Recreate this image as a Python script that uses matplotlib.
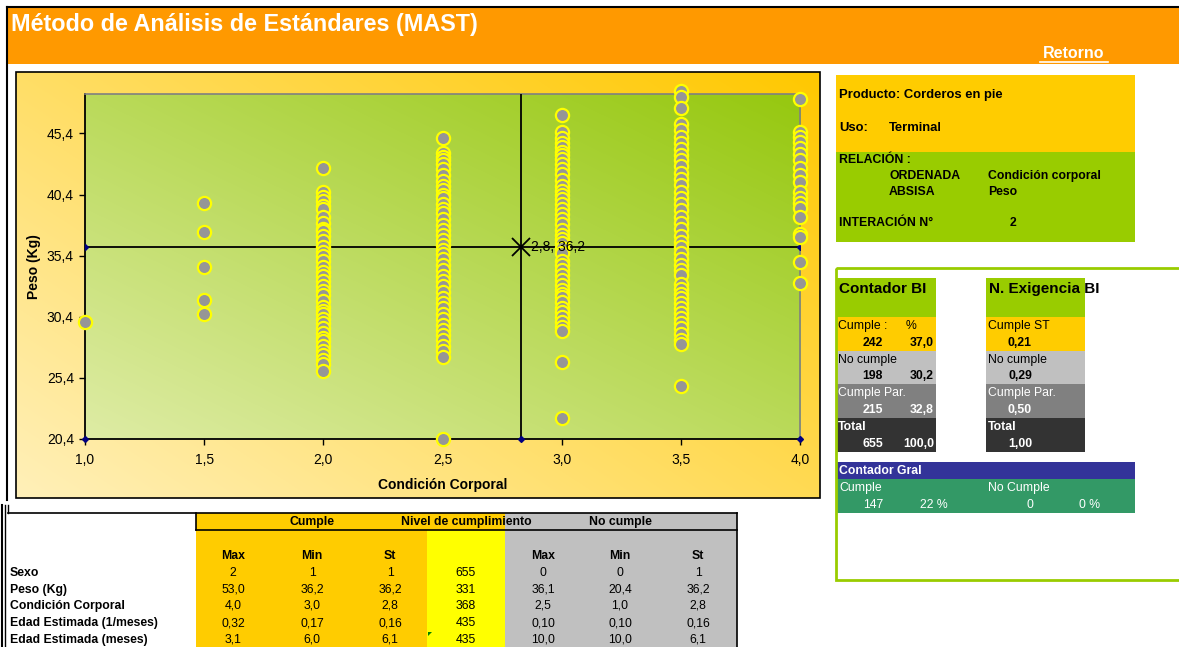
import numpy as np
import matplotlib
matplotlib.use("Agg")
import matplotlib.pyplot as plt
from matplotlib.patches import Rectangle, Polygon

plt.rcParams['font.family'] = ['Liberation Sans', 'DejaVu Sans']

# ---------------- data ----------------
cond_levels = [1.0, 1.5, 2.0, 2.5, 3.0, 3.5, 4.0]
peso_c10 = [30.0]
peso_c15 = [39.7, 37.3, 34.5, 31.8, 30.6]
peso_c20 = [42.6, 40.6, 40.2, 39.9, 39.5, 39.2, 38.6, 38.1, 37.6, 37.4, 37.0, 36.6,
            36.1, 35.7, 35.4, 35.0, 34.5, 34.1, 33.7, 33.3, 32.9, 32.5, 32.2, 31.7,
            31.2, 30.9, 30.6, 30.2, 29.9, 29.5, 29.1, 28.7, 28.4, 28.0, 27.6, 27.3,
            26.9, 26.5, 26.0]
peso_c25 = [45.0, 43.8, 43.5, 43.2, 42.9, 42.5, 42.0, 41.5, 41.1, 40.8, 40.4, 40.1,
            39.6, 39.2, 38.9, 38.4, 37.9, 37.5, 37.1, 36.7, 36.3, 35.9, 35.5, 35.1,
            34.6, 34.2, 33.7, 33.3, 32.9, 32.4, 31.9, 31.5, 31.1, 30.6, 30.2, 29.7,
            29.3, 28.9, 28.5, 28.0, 27.6, 27.1, 20.4]
peso_c30 = [46.9, 45.5, 45.0, 44.6, 44.3, 43.9, 43.6, 43.3, 42.9, 42.5, 42.1, 41.6,
            41.1, 40.7, 40.4, 40.0, 39.6, 39.2, 38.8, 38.4, 38.0, 37.5, 37.1, 36.8,
            36.4, 36.0, 35.6, 35.0, 34.6, 34.2, 33.8, 33.4, 33.0, 32.6, 32.3, 32.0,
            31.6, 31.1, 30.8, 30.4, 30.0, 29.6, 29.2, 26.7, 22.1]
peso_c35 = [48.9, 48.4, 47.5, 46.2, 45.7, 45.1, 44.6, 44.1, 43.6, 43.2, 42.7, 42.2,
            41.7, 41.2, 40.6, 40.1, 39.6, 39.1, 38.6, 38.1, 37.6, 37.0, 36.5, 36.1,
            35.6, 35.1, 34.6, 34.2, 33.8, 33.1, 32.7, 32.3, 31.9, 31.5, 31.1, 30.7,
            30.3, 29.9, 29.5, 29.0, 28.5, 28.2, 24.7]
peso_c40 = [48.2, 45.5, 45.1, 44.7, 44.2, 43.7, 43.2, 42.6, 42.0, 41.4, 40.6, 40.1,
            39.7, 39.3, 38.6, 37.2, 36.9, 34.9, 33.2]
peso_groups = [peso_c10, peso_c15, peso_c20, peso_c25, peso_c30, peso_c35, peso_c40]

centroid_cond = 2.83
centroid_peso = 36.15
centroid_label = "2,8, 36,2"

x_ticks = [1.0, 1.5, 2.0, 2.5, 3.0, 3.5, 4.0]
x_ticklabels = ["1,0", "1,5", "2,0", "2,5", "3,0", "3,5", "4,0"]
y_ticks = [20.4, 25.4, 30.4, 35.4, 40.4, 45.4]
y_ticklabels = ["20,4", "25,4", "30,4", "35,4", "40,4", "45,4"]
y_max = 48.63

row_labels = ["Sexo", "Peso (Kg)", "Condición Corporal",
              "Edad Estimada (1/meses)", "Edad Estimada (meses)"]
cumple_max = ["2", "53,0", "4,0", "0,32", "3,1"]
cumple_min = ["1", "36,2", "3,0", "0,17", "6,0"]
cumple_st = ["1", "36,2", "2,8", "0,16", "6,1"]
nivel = ["655", "331", "368", "435", "435"]
nocumple_max = ["0", "36,1", "2,5", "0,10", "10,0"]
nocumple_min = ["0", "20,4", "1,0", "0,10", "10,0"]
nocumple_st = ["1", "36,2", "2,8", "0,16", "6,1"]

contador_labels = ["Cumple :", "No cumple", "Cumple Par.", "Total"]
contador_n = ["242", "198", "215", "655"]
contador_pct = ["37,0", "30,2", "32,8", "100,0"]
exig_labels = ["Cumple ST", "No cumple", "Cumple Par.", "Total"]
exig_vals = ["0,21", "0,29", "0,50", "1,00"]
gral_cumple = ["147", "22 %"]
gral_nocumple = ["0", "0 %"]

# ---------------- figure ----------------
W, H = 1179, 647
fig = plt.figure(figsize=(W / 100, H / 100), dpi=100)
bg = fig.add_axes([0, 0, 1, 1])
bg.set_xlim(0, W)
bg.set_ylim(H, 0)
bg.axis('off')

FS = 8.8  # standard small text size


def T(x, y, s, size=FS, bold=False, color='black', ha='left', va='center', **kw):
    bg.text(x, y, s, fontsize=size, fontweight='bold' if bold else 'normal',
            color=color, ha=ha, va=va, **kw)


def R(x0, y0, x1, y1, fc, ec='none', lw=0, z=1):
    bg.add_patch(Rectangle((x0, y0), x1 - x0, y1 - y0, facecolor=fc,
                           edgecolor=ec, linewidth=lw, zorder=z))


# title bar
R(8, 8, W, 64, '#FF9900')
bg.plot([7, 7], [7, 500], color='black', lw=1.5, zorder=3)
bg.plot([7, W], [7, 7], color='black', lw=1.5, zorder=3)
T(11, 24, "Método de Análisis de Estándares (MAST)", size=16.8, bold=True, color='white')
T(1074, 54, "Retorno", size=11.5, bold=True, color='white', ha='center')
bg.plot([1040, 1108], [62, 62], color='white', lw=1.2, zorder=3)

# chart area gradient
nx, ny = 200, 120
gx, gy = np.meshgrid(np.linspace(0, 1, nx), np.linspace(0, 1, ny))
t = np.clip(0.55 * gx + 0.45 * gy, 0, 1)
c0 = np.array([255, 240, 185]) / 255
c1 = np.array([255, 200, 0]) / 255
img = c0[None, None, :] * (1 - t[..., None]) + c1[None, None, :] * t[..., None]
bg.imshow(img[::-1], extent=(16, 820, 498, 72), aspect='auto', zorder=1,
          interpolation='bilinear', origin='upper')
R(16, 72, 820, 498, 'none', ec='black', lw=1.2, z=2)

# ---------------- scatter axes ----------------
px0, px1, py0, py1 = 85, 800, 94, 439
ax = fig.add_axes([px0 / W, 1 - py1 / H, (px1 - px0) / W, (py1 - py0) / H])

g0 = np.array([222, 236, 165]) / 255
g1 = np.array([150, 200, 15]) / 255
t2 = np.clip(0.5 * gx + 0.5 * gy, 0, 1)
img2 = g0[None, None, :] * (1 - t2[..., None]) + g1[None, None, :] * t2[..., None]
ax.imshow(img2[::-1], extent=(0, 1, 0, 1), transform=ax.transAxes, aspect='auto',
          zorder=0, interpolation='bilinear', origin='upper')

for lvl, grp in zip(cond_levels, peso_groups):
    ax.plot([lvl] * len(grp), grp, 'o', ms=9.5, mfc='#969696', mec='#FFFF00',
            mew=1.6, ls='none', clip_on=False, zorder=5)

ax.plot([1.0, 4.0], [centroid_peso, centroid_peso], color='black', lw=1.3, zorder=3,
        marker='D', ms=3, mfc='#000080', mec='#000080')
ax.plot([centroid_cond, centroid_cond], [20.4, y_max], color='black', lw=1.3, zorder=3)
ax.plot([1.0, centroid_cond, 4.0], [20.4, 20.4, 20.4], 'D', ms=3, mfc='#000080',
        mec='#000080', clip_on=False, zorder=4)
ax.plot([centroid_cond], [centroid_peso], marker='x', ms=13, mew=1.3, color='black',
        zorder=6)
ax.annotate(centroid_label, (centroid_cond, centroid_peso), xytext=(7, 0),
            textcoords='offset points', va='center', ha='left', fontsize=10, zorder=7)

ax.set_xlim(1.0, 4.0)
ax.set_ylim(20.4, y_max)
ax.set_xticks(x_ticks)
ax.set_xticklabels(x_ticklabels, fontsize=10)
ax.set_yticks(y_ticks)
ax.set_yticklabels(y_ticklabels, fontsize=10)
ax.tick_params(axis='both', direction='out', length=4, width=1, pad=4)
ax.tick_params(axis='x', pad=6)
for s in ['top', 'right']:
    ax.spines[s].set_color('#808080')
    ax.spines[s].set_linewidth(1.2)
for s in ['left', 'bottom']:
    ax.spines[s].set_color('black')
    ax.spines[s].set_linewidth(1.3)
ax.set_xlabel("Condición Corporal", fontsize=10, fontweight='bold', labelpad=8)
ax.set_ylabel("Peso (Kg)", fontsize=10, fontweight='bold', labelpad=4)

# ---------------- right info panel ----------------
R(836, 75, 1135, 152, '#FFCC00')
R(836, 152, 1135, 242, '#99CC00')
T(839, 95, "Producto: Corderos en pie", size=9.4, bold=True)
T(839, 128, "Uso:", size=9.4, bold=True)
T(889, 128, "Terminal", size=9.4, bold=True)
T(839, 160, "RELACIÓN :", size=FS, bold=True)
T(889, 176, "ORDENADA", size=FS, bold=True)
T(988, 176, "Condición corporal", size=FS, bold=True)
T(889, 192, "ABSISA", size=FS, bold=True)
T(988, 192, "Peso", size=FS, bold=True)
T(839, 223, "INTERACIÓN N°", size=FS, bold=True)
T(1010, 223, "2", size=FS, bold=True)

# counter box
R(836, 268, 1185, 580, 'none', ec='#99CC00', lw=2, z=2)
R(837, 278, 936, 317, '#99CC00')
R(986, 278, 1085, 317, '#99CC00')
T(839, 289, "Contador BI", size=11, bold=True)
T(989, 289, "N. Exigencia BI", size=11, bold=True, zorder=5)
row_cols = ['#FFCC00', '#C0C0C0', '#808080', '#333333']
lab_cols = ['black', 'black', 'white', 'white']
for i in range(4):
    y0 = 317 + i * 33.7
    R(837, y0, 936, y0 + 33.7, row_cols[i])
    R(986, y0, 1085, y0 + 33.7, row_cols[i])
    bold_lab = (i == 3)
    T(838, y0 + 9, contador_labels[i], bold=bold_lab, color=lab_cols[i])
    T(988, y0 + 9, exig_labels[i], bold=bold_lab, color=lab_cols[i])
    T(883, y0 + 25.5, contador_n[i], bold=True, color=lab_cols[i], ha='right')
    T(934, y0 + 25.5, contador_pct[i], bold=True, color=lab_cols[i], ha='right')
    T(1032, y0 + 25.5, exig_vals[i], bold=True, color=lab_cols[i], ha='right')
T(906, 326, "%")

R(837, 462, 1135, 478.5, '#333399')
R(837, 478.5, 1135, 513, '#339966')
T(839, 471, "Contador Gral", bold=True, color='white')
T(839, 488, "Cumple", color='white')
T(988, 488, "No Cumple", color='white')
T(873, 505, gral_cumple[0], color='white', ha='center')
T(934, 505, gral_cumple[1], color='white', ha='center')
T(1030, 505, gral_nocumple[0], color='white', ha='center')
T(1090, 505, gral_nocumple[1], color='white', ha='center')

# ---------------- bottom table ----------------
R(196, 513, 427, H, '#FFCC00')
R(427, 530, 505, H, '#FFFF00')
R(427, 513, 505, 530, '#FFCC00')
R(505, 513, 737, H, '#C0C0C0')
bg.plot([8, 737], [513, 513], color='black', lw=1.2, zorder=3)
bg.plot([196, 737], [530, 530], color='black', lw=1.2, zorder=3)
bg.plot([196, 196], [513, 530], color='black', lw=1.2, zorder=3)
bg.plot([737, 737], [513, H], color='black', lw=1.2, zorder=3)
bg.plot([2, 2], [505, H], color='black', lw=1.5, zorder=3)
bg.plot([5, 5], [505, H], color='black', lw=1.0, zorder=3)
bg.plot([8, 8], [505, 513], color='black', lw=1.0, zorder=3)

T(312, 522, "Cumple", bold=True, ha='center')
T(466, 522, "Nivel de cumplimiento", bold=True, ha='center', zorder=5)
T(620, 522, "No cumple", bold=True, ha='center')
col_x = [233, 312, 390, 466, 543, 620, 698]
for cx, h in zip([233, 312, 390, 543, 620, 698], ["Max", "Min", "St", "Max", "Min", "St"]):
    T(cx, 556, h, bold=True, ha='center')
row_y = [573, 590, 606, 623, 640]
cols = [cumple_max, cumple_min, cumple_st, nivel, nocumple_max, nocumple_min, nocumple_st]
for j, ry in enumerate(row_y):
    T(10, ry, row_labels[j], bold=True)
    for cx, col in zip(col_x, cols):
        T(cx, ry, col[j], ha='center')
bg.add_patch(Polygon([[428, 632], [432, 632], [428, 636]], closed=True,
                     facecolor='#008000', edgecolor='none', zorder=4))

fig.savefig("out.png", dpi=100)
